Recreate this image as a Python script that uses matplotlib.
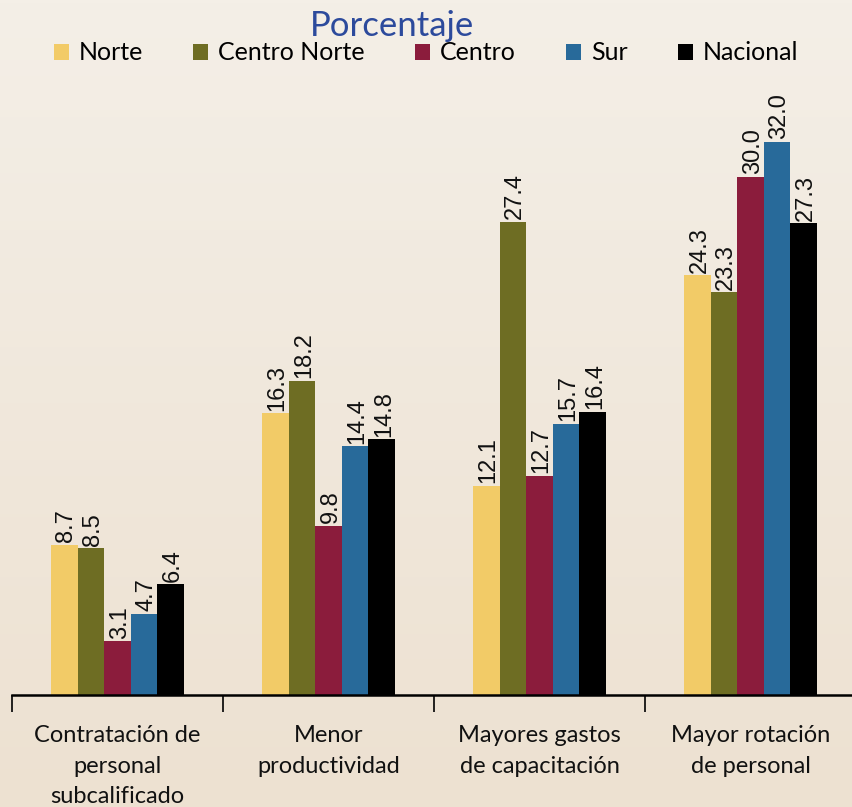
import numpy as np
import matplotlib.pyplot as plt
from matplotlib.patches import Patch

categorias = ["Contratación de\npersonal\nsubcalificado", "Menor\nproductividad",
              "Mayores gastos\nde capacitación", "Mayor rotación\nde personal"]
regiones = ["Norte", "Centro Norte", "Centro", "Sur", "Nacional"]
norte = [8.7, 16.3, 12.1, 24.3]
centro_norte = [8.5, 18.2, 27.4, 23.3]
centro = [3.1, 9.8, 12.7, 30.0]
sur = [4.7, 14.4, 15.7, 32.0]
nacional = [6.4, 14.8, 16.4, 27.3]
colores = ["#F2CB67", "#6E6D23", "#8B1C3C", "#286A9A", "#000000"]

series = [norte, centro_norte, centro, sur, nacional]

fig = plt.figure(figsize=(8.52, 8.07), dpi=100)

# fondo degradado
bg = fig.add_axes([0, 0, 1, 1], zorder=-10)
grad = np.linspace(0, 1, 256).reshape(-1, 1)
top = np.array([0xF4, 0xEF, 0xE7]) / 255
bot = np.array([0xED, 0xE1, 0xD1]) / 255
img = top + (bot - top) * grad[:, :, None]
bg.imshow(img, aspect="auto", extent=[0, 1, 0, 1])
bg.axis("off")

ax = fig.add_axes([12 / 852, 112 / 807, 844 / 852, 615 / 807])
ax.patch.set_alpha(0)
x = np.arange(len(categorias))
ancho = 0.126
for i, (vals, col) in enumerate(zip(series, colores)):
    pos = x + (i - 2) * ancho
    ax.bar(pos, vals, width=ancho, color=col, edgecolor="none", zorder=2)
    for px, v in zip(pos, vals):
        ax.text(px + 0.01, v + 0.15, f"{v:.1f}", rotation=90, ha="center", va="bottom",
                fontsize=17, family="Liberation Sans", color="#111111")

ax.set_xlim(-0.5, 3.5)
ax.set_ylim(0, 615 / 17.28)
for s in ["top", "right", "left"]:
    ax.spines[s].set_visible(False)
ax.spines["bottom"].set_linewidth(1.8)
ax.set_yticks([])
ax.set_xticks([-0.5, 0.5, 1.5, 2.5, 3.5])
ax.set_xticklabels([])
ax.tick_params(axis="x", direction="out", length=12, width=1.2)
for xi, lab in zip(x, categorias):
    ax.text(xi, -1.75, lab, ha="center", va="top", fontsize=17, family="Lato",
            linespacing=1.55, color="#111111")

fig.text(0.46, 1 - 26 / 807, "Porcentaje", ha="center", va="center",
         fontsize=25, family="Lato", color="#2C4A9C")

handles = [Patch(facecolor=c, edgecolor="none") for c in colores]
fig.legend(handles, regiones, loc="center", bbox_to_anchor=(0.5, 1 - 53 / 807),
           ncol=5, frameon=False, prop={"family": "Lato", "size": 18},
           handlelength=0.6, handleheight=0.6, handletextpad=0.4, columnspacing=2.0)

fig.savefig("out.png", dpi=100)
